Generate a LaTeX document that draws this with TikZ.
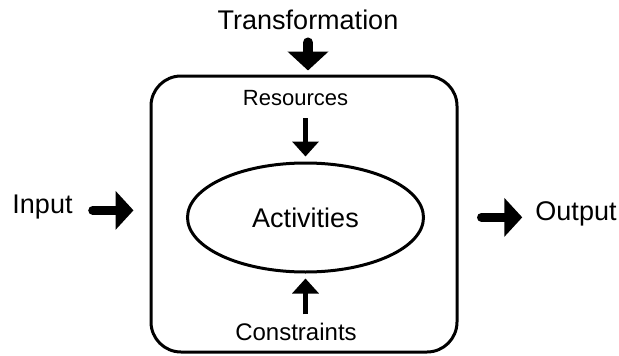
\documentclass[tikz,border=0pt]{standalone}
\usepackage{fontspec}
\setmainfont{Liberation Sans}
\usepackage{xcolor}
\usepackage{tikz}
\usetikzlibrary{arrows.meta,shapes.geometric}
\definecolor{ink}{HTML}{000000}
\definecolor{paper}{HTML}{FFFFFF}
\tikzset{
  procbox/.style={draw=ink, line width=3pt, rounded corners=30pt, minimum width=306pt, minimum height=276pt, inner sep=0pt},
  actell/.style={ellipse, draw=ink, line width=3pt, minimum width=236pt, minimum height=109pt, inner sep=0pt, font=\fontsize{27}{32}\selectfont},
  lab/.style={text=ink, inner sep=0pt, anchor=base, font=\fontsize{27}{32}\selectfont},
  labs/.style={text=ink, inner sep=0pt, anchor=base, font=\fontsize{23}{28}\selectfont},
  bigarr/.style={draw=ink, line width=10pt, line cap=round, -{Triangle[width=40pt,length=19pt]}},
  bigarrh/.style={draw=ink, line width=9pt, line cap=round, -{Triangle[width=38pt,length=18pt]}},
  thinarr/.style={draw=ink, line width=5pt, -{Triangle[width=26pt,length=15pt]}},
}
\begin{document}
\begin{tikzpicture}[x=1pt,y=-1pt]
  \useasboundingbox[fill=paper] (0,0) rectangle (619,356);
  % frame and activity
  \node[procbox] (proc) at (304,214) {};
  \node[actell] (act) at (305.5,217.5) {Activities};
  % labels
  \node[lab] (trans) at (308,29) {Transformation};
  \node[labs, font=\fontsize{22}{27}\selectfont] (res) at (295.5,105) {Resources};
  \node[labs, font=\fontsize{24}{29}\selectfont] (cons) at (296,340) {Constraints};
  \node[lab] (inp) at (42.5,213) {Input};
  \node[lab] (out) at (576,220) {Output};
  % arrows
  \draw[bigarr, shorten <=13pt, shorten >=4pt] (trans.south) -- (trans.south |- proc.north);
  \draw[bigarrh, shorten <=20pt, shorten >=16pt] (inp.mid east) -- (inp.mid east -| proc.west);
  \draw[bigarrh, shorten <=23pt, shorten >=13pt] (out.mid west -| proc.east) -- (out.mid west);
  \draw[thinarr, shorten <=13pt, shorten >=5pt] (res.south -| act.north) -- (act.north);
  \draw[thinarr, shorten <=8pt, shorten >=5pt] (cons.north -| act.south) -- (act.south);
\end{tikzpicture}
\end{document}
